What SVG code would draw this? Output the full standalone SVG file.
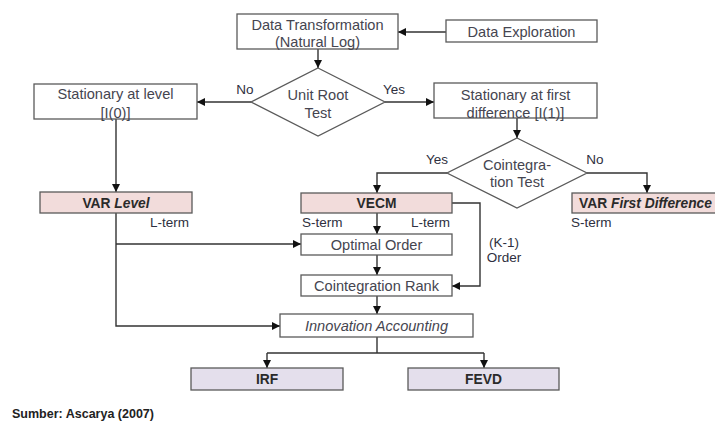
<svg xmlns="http://www.w3.org/2000/svg" width="715" height="421" viewBox="0 0 715 421">
<style>
.box{fill:#ffffff;stroke:#5a5a5a;stroke-width:1.3}
.pink{fill:#f2dcdb;stroke:#5a5a5a;stroke-width:1.3}
.lav{fill:#e4dfec;stroke:#5a5a5a;stroke-width:1.3}
.t{font-family:"Liberation Sans",Arial,sans-serif;font-size:14.6px;fill:#454550;text-anchor:middle}
.b{font-family:"Liberation Sans",Arial,sans-serif;font-size:13.8px;font-weight:bold;fill:#2a2a2a;text-anchor:middle}
.bs{font-family:"Liberation Sans",Arial,sans-serif;font-size:13.8px;font-weight:bold;fill:#2a2a2a;text-anchor:start}
.l{font-family:"Liberation Sans",Arial,sans-serif;font-size:13.5px;fill:#2e3040}
.lm{font-family:"Liberation Sans",Arial,sans-serif;font-size:13.5px;fill:#2e3040;text-anchor:middle}
.c{fill:none;stroke:#333;stroke-width:1.4}
</style>
<defs>
<marker id="ah" viewBox="0 0 10 10" refX="10" refY="5" markerWidth="8" markerHeight="8" markerUnits="userSpaceOnUse" orient="auto">
<path d="M0,0 L10,5 L0,10 z" fill="#111"/>
</marker>
</defs>
<rect width="715" height="421" fill="#ffffff"/>
<g id="connectors">
<path class="c" d="M446,32 L398,32" marker-end="url(#ah)"/>
<path class="c" d="M318,49 L318,68" marker-end="url(#ah)"/>
<path class="c" d="M251,102 L197,102" marker-end="url(#ah)"/>
<path class="c" d="M385,102 L434,102" marker-end="url(#ah)"/>
<path class="c" d="M517,118 L517,138" marker-end="url(#ah)"/>
<path class="c" d="M447,173 L377,173 L377,193" marker-end="url(#ah)"/>
<path class="c" d="M587,173 L647,173 L647,193" marker-end="url(#ah)"/>
<path class="c" d="M116,119 L116,192" marker-end="url(#ah)"/>
<path class="c" d="M116,213 L116,326 L280,326" marker-end="url(#ah)"/>
<path class="c" d="M116,244 L301,244" marker-end="url(#ah)"/>
<path class="c" d="M377,213 L377,234" marker-end="url(#ah)"/>
<path class="c" d="M377,255 L377,275" marker-end="url(#ah)"/>
<path class="c" d="M377,296 L377,314" marker-end="url(#ah)"/>
<path class="c" d="M452,203 L480,203 L480,286 L452,286" marker-end="url(#ah)"/>
<path class="c" d="M377,337 L377,353"/>
<path class="c" d="M267,353 L484,353"/>
<path class="c" d="M267,353 L267,368" marker-end="url(#ah)"/>
<path class="c" d="M484,353 L484,368" marker-end="url(#ah)"/>
</g>
<g id="labels">
<text class="lm" x="245" y="94">No</text>
<text class="lm" x="394" y="94">Yes</text>
<text class="lm" x="437" y="164">Yes</text>
<text class="lm" x="595" y="164">No</text>
<text class="l" x="150" y="227">L-term</text>
<text class="l" x="302" y="227">S-term</text>
<text class="l" x="411" y="227">L-term</text>
<text class="l" x="571" y="227">S-term</text>
<text class="lm" x="504" y="247">(K-1)</text>
<text class="lm" x="504" y="262">Order</text>
</g>
<g id="data-transformation">
<rect class="box" x="237" y="14" width="161" height="35"/>
<text class="t" x="317.5" y="30">Data Transformation</text>
<text class="t" x="317.5" y="47">(Natural Log)</text>
</g>
<g id="data-exploration">
<rect class="box" x="446" y="20" width="151" height="22"/>
<text class="t" x="521.5" y="37">Data Exploration</text>
</g>
<g id="unit-root-test">
<polygon class="box" points="318,68 385,102 318,136 251,102"/>
<text class="t" x="318" y="100">Unit Root</text>
<text class="t" x="318" y="118">Test</text>
</g>
<g id="stationary-level">
<rect class="box" x="34" y="84" width="163" height="35"/>
<text class="t" x="115.5" y="99">Stationary at level</text>
<text class="t" x="115.5" y="118">[I(0)]</text>
</g>
<g id="stationary-first-difference">
<rect class="box" x="434" y="83" width="163" height="35"/>
<text class="t" x="515.5" y="100">Stationary at first</text>
<text class="t" x="515.5" y="118">difference [I(1)]</text>
</g>
<g id="cointegration-test">
<polygon class="box" points="517,138 587,173 517,208 447,173"/>
<text class="t" x="517" y="170">Cointegra-</text>
<text class="t" x="517" y="187">tion Test</text>
</g>
<g id="var-level">
<rect class="pink" x="40" y="192" width="152" height="21"/>
<text class="b" x="116" y="208">VAR <tspan font-style="italic">Level</tspan></text>
</g>
<g id="vecm">
<rect class="pink" x="301" y="193" width="151" height="20"/>
<text class="b" x="376.5" y="208">VECM</text>
</g>
<g id="var-first-difference">
<rect class="pink" x="572" y="193" width="150" height="20"/>
<text class="bs" x="579" y="208">VAR <tspan font-style="italic">First Difference</tspan></text>
</g>
<g id="optimal-order">
<rect class="box" x="301" y="234" width="151" height="21"/>
<text class="t" x="376.5" y="250">Optimal Order</text>
</g>
<g id="cointegration-rank">
<rect class="box" x="301" y="275" width="151" height="21"/>
<text class="t" x="376.5" y="291">Cointegration Rank</text>
</g>
<g id="innovation-accounting">
<rect class="box" x="280" y="314" width="193" height="23"/>
<text class="t" x="376.5" y="331" font-style="italic">Innovation Accounting</text>
</g>
<g id="irf">
<rect class="lav" x="191" y="368" width="152" height="22"/>
<text class="b" x="267" y="384">IRF</text>
</g>
<g id="fevd">
<rect class="lav" x="408" y="368" width="151" height="22"/>
<text class="b" x="483.5" y="384">FEVD</text>
</g>
<text x="12" y="418" font-family="Liberation Sans, Arial, sans-serif" font-size="12.5" font-weight="bold" fill="#222">Sumber: Ascarya (2007)</text>
</svg>
